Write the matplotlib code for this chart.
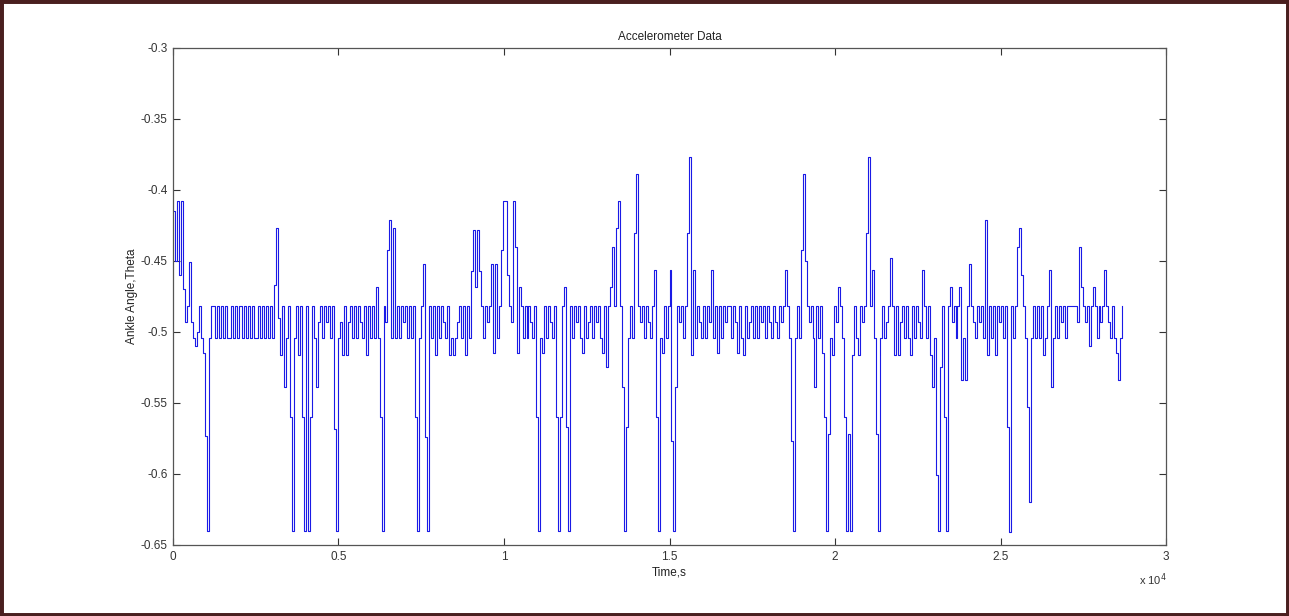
import numpy as np
import matplotlib
matplotlib.use("Agg")
import matplotlib.pyplot as plt
from matplotlib.patches import Rectangle

# sample period of the recording (time units)
dt = 60

seg_a = [-0.415, -0.45, -0.408, -0.46, -0.408, -0.47, -0.493, -0.482, -0.451, -0.493,
         -0.504, -0.51, -0.50, -0.482, -0.504, -0.515, -0.573, -0.64, -0.504, -0.482,
         -0.482, -0.504, -0.482, -0.504, -0.482, -0.504, -0.482, -0.504, -0.504, -0.482,
         -0.504, -0.482, -0.504, -0.482, -0.482, -0.504, -0.482, -0.504, -0.482, -0.504,
         -0.482, -0.504, -0.504, -0.482, -0.504, -0.482, -0.504, -0.482, -0.504, -0.482,
         -0.504, -0.467, -0.427, -0.49, -0.516, -0.482, -0.539, -0.504, -0.482, -0.56,
         -0.64, -0.504, -0.482, -0.516, -0.482, -0.56, -0.64, -0.482, -0.64, -0.56,
         -0.482, -0.504, -0.539, -0.493, -0.482, -0.504, -0.482, -0.493, -0.482, -0.504,
         -0.482, -0.568, -0.64, -0.504, -0.493, -0.516, -0.482, -0.516, -0.493, -0.482,
         -0.504, -0.482, -0.504, -0.482, -0.493, -0.504, -0.482, -0.516, -0.482, -0.504]

seg_b = [-0.482, -0.504, -0.468, -0.504, -0.56, -0.64, -0.482, -0.493, -0.442, -0.421,
         -0.504, -0.427, -0.504, -0.482, -0.504, -0.482, -0.493, -0.482, -0.504, -0.482,
         -0.504, -0.482, -0.56, -0.64, -0.504, -0.482, -0.452, -0.574, -0.64, -0.482,
         -0.504, -0.482, -0.516, -0.482, -0.504, -0.482, -0.493, -0.504, -0.482, -0.516,
         -0.504, -0.516, -0.504, -0.493, -0.482, -0.504, -0.482, -0.516, -0.482, -0.504,
         -0.457, -0.428, -0.468, -0.428, -0.457, -0.482, -0.504, -0.482, -0.493, -0.482,
         -0.452, -0.515, -0.452, -0.504, -0.482, -0.442, -0.408, -0.408, -0.46, -0.482,
         -0.493, -0.408, -0.44, -0.515, -0.468, -0.482, -0.504, -0.482, -0.504, -0.482,
         -0.493, -0.504, -0.482, -0.56, -0.64, -0.504, -0.515, -0.482, -0.504, -0.482,
         -0.493, -0.504, -0.482, -0.56, -0.64, -0.56, -0.482, -0.468, -0.567, -0.64]

seg_c = [-0.482, -0.504, -0.482, -0.493, -0.482, -0.504, -0.515, -0.482, -0.504, -0.493,
         -0.482, -0.504, -0.482, -0.493, -0.482, -0.504, -0.515, -0.482, -0.525, -0.482,
         -0.468, -0.44, -0.482, -0.427, -0.408, -0.482, -0.539, -0.64, -0.567, -0.504,
         -0.482, -0.504, -0.43, -0.389, -0.482, -0.493, -0.482, -0.504, -0.482, -0.493,
         -0.504, -0.482, -0.456, -0.56, -0.64, -0.504, -0.515, -0.482, -0.504, -0.482,
         -0.456, -0.577, -0.64, -0.539, -0.482, -0.493, -0.482, -0.504, -0.482, -0.43,
         -0.377, -0.516, -0.456, -0.504, -0.482, -0.493, -0.504, -0.482, -0.504, -0.482,
         -0.493, -0.456, -0.504, -0.482, -0.515, -0.482, -0.504, -0.482, -0.493, -0.482,
         -0.482, -0.504, -0.482, -0.493, -0.515, -0.482, -0.504, -0.516, -0.482, -0.504,
         -0.493, -0.482, -0.504, -0.482, -0.504, -0.482, -0.493, -0.482, -0.504, -0.482]

seg_d = [-0.493, -0.504, -0.482, -0.493, -0.504, -0.482, -0.493, -0.482, -0.456, -0.482,
         -0.504, -0.577, -0.64, -0.504, -0.482, -0.504, -0.442, -0.389, -0.45, -0.482,
         -0.493, -0.482, -0.504, -0.539, -0.482, -0.504, -0.482, -0.515, -0.56, -0.64,
         -0.572, -0.504, -0.516, -0.482, -0.493, -0.468, -0.482, -0.504, -0.56, -0.64,
         -0.572, -0.64, -0.516, -0.482, -0.504, -0.516, -0.482, -0.493, -0.482, -0.43,
         -0.377, -0.482, -0.456, -0.504, -0.572, -0.64, -0.504, -0.482, -0.504, -0.493,
         -0.482, -0.448, -0.482, -0.516, -0.482, -0.516, -0.493, -0.482, -0.504, -0.482,
         -0.504, -0.516, -0.482, -0.504, -0.482, -0.493, -0.504, -0.456, -0.482, -0.504,
         -0.482, -0.516, -0.539, -0.504, -0.601, -0.64, -0.525, -0.482, -0.56, -0.64,
         -0.482, -0.468, -0.493, -0.482, -0.504, -0.482, -0.468, -0.534, -0.504, -0.534]

seg_e = [-0.482, -0.452, -0.482, -0.493, -0.504, -0.482, -0.493, -0.482, -0.504, -0.421,
         -0.516, -0.482, -0.504, -0.482, -0.516, -0.482, -0.493, -0.482, -0.504, -0.482,
         -0.567, -0.641, -0.482, -0.504, -0.482, -0.44, -0.427, -0.46, -0.482, -0.504,
         -0.553, -0.62, -0.504, -0.482, -0.504, -0.482, -0.504, -0.482, -0.516, -0.504,
         -0.482, -0.456, -0.539, -0.504, -0.482, -0.504, -0.482, -0.493, -0.482, -0.504,
         -0.482, -0.482, -0.482, -0.482, -0.482, -0.493, -0.44, -0.468, -0.482, -0.493,
         -0.482, -0.51, -0.482, -0.468, -0.482, -0.504, -0.482, -0.493, -0.482, -0.456,
         -0.482, -0.493, -0.504, -0.482, -0.504, -0.515, -0.534, -0.504, -0.482]

y_ticks = [-0.3, -0.35, -0.4, -0.45, -0.5, -0.55, -0.6, -0.65]
y_labels = ["-0.3", "-0.35", "-0.4", "-0.45", "-0.5", "-0.55", "-0.6", "-0.65"]
x_ticks = [0, 5000, 10000, 15000, 20000, 25000, 30000]
x_labels = ["0", "0.5", "1", "1.5", "2", "2.5", "3"]

values = np.array(seg_a + seg_b + seg_c + seg_d + seg_e)
t = np.arange(len(values)) * dt

plt.rcParams['font.family'] = ['Liberation Sans', 'DejaVu Sans']

fig = plt.figure(figsize=(12.89, 6.16), dpi=100)
fig.patch.set_facecolor('white')
ax = fig.add_axes([0.1342, 0.1153, 0.7704, 0.8068])

ax.plot(t, values, color='#1a1ae6', linewidth=0.8, drawstyle='steps-post')

ax.set_xlim(0, 30000)
ax.set_ylim(-0.65, -0.3)
ax.set_xticks(x_ticks)
ax.set_xticklabels(x_labels)
ax.set_yticks(y_ticks)
ax.set_yticklabels(y_labels)
ax.tick_params(direction='in', top=True, right=True, length=5, width=0.8,
               labelsize=8.5, colors='#333333', pad=4)
for s in ax.spines.values():
    s.set_color('#555555')
    s.set_linewidth(0.9)

ax.set_title("Accelerometer Data", fontsize=8.5, color='#222222', pad=6)
ax.set_xlabel("Time,s", fontsize=8.5, color='#222222', labelpad=3)
ax.set_ylabel("Ankle Angle,Theta", fontsize=8.5, color='#222222', labelpad=2)
fig.text(1167/1289, 1 - 580/616, r"x 10$^4$", fontsize=8, color='#333333',
         ha='right', va='center')

# dark frame around the figure
fig.patches.append(Rectangle((0, 0), 1, 1, transform=fig.transFigure,
                             fill=False, edgecolor='#4a1f1f', linewidth=5,
                             zorder=10))

fig.savefig("out.png", dpi=100)
